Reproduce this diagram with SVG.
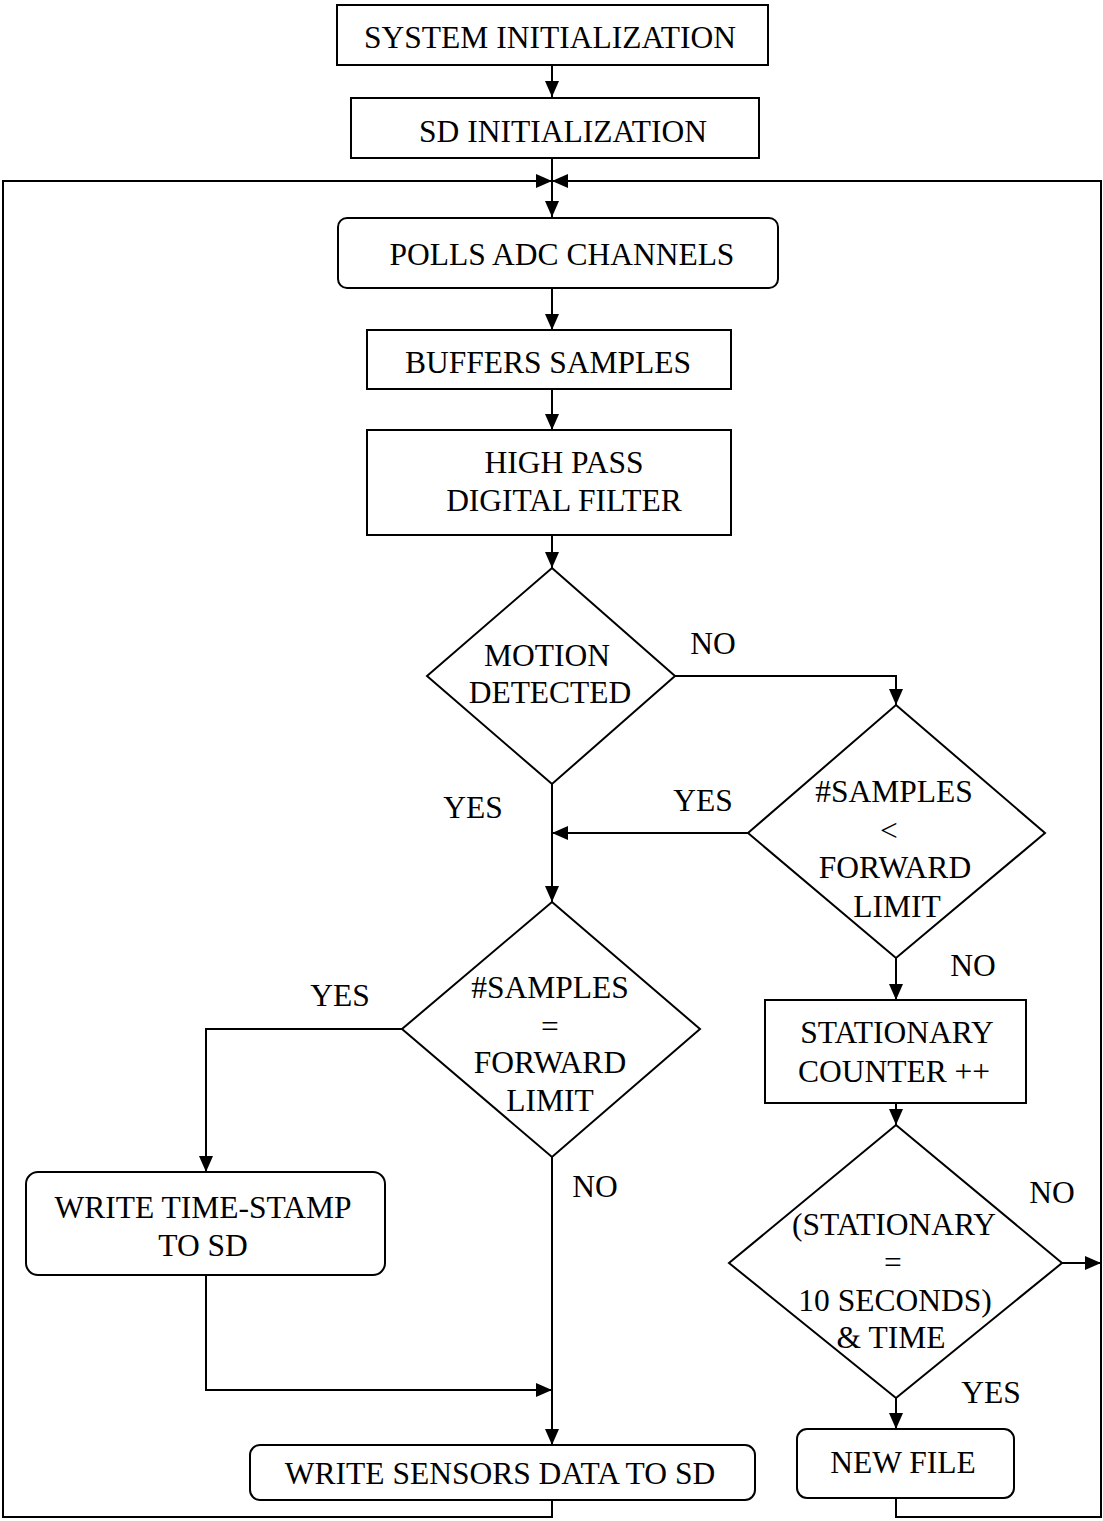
<svg xmlns="http://www.w3.org/2000/svg" width="1103" height="1521" viewBox="0 0 1103 1521">
<style>
.box{fill:#fff;stroke:#000;stroke-width:2}
.ln{fill:none;stroke:#000;stroke-width:2}
.arr{fill:none;stroke:#000;stroke-width:2;marker-end:url(#ah)}
text{font-family:"Liberation Serif","Times New Roman",serif;font-size:31.5px;fill:#000;text-anchor:middle}
</style>
<defs>
<marker id="ah" markerUnits="userSpaceOnUse" markerWidth="16" markerHeight="14" refX="16" refY="7" orient="auto">
<path d="M0,0 L16,7 L0,14 z" fill="#000"/>
</marker>
</defs>
<rect width="1103" height="1521" fill="#fff"/>
<g id="connectors">
<path class="arr" d="M552,65 V97"/>
<path class="arr" d="M552,158 V217"/>
<path class="arr" d="M552,1500 V1517 H3 V181 H552"/>
<path class="arr" d="M896,1498 V1517 H1101 V181 H552"/>
<path class="arr" d="M552,288 V330"/>
<path class="arr" d="M552,389 V430"/>
<path class="arr" d="M552,535 V568"/>
<path class="arr" d="M675,676 H896 V705"/>
<path class="ln" d="M552,784 V833"/>
<path class="arr" d="M748,833 H552"/>
<path class="arr" d="M552,833 V902"/>
<path class="arr" d="M402,1029 H206 V1172"/>
<path class="arr" d="M206,1275 V1390 H552"/>
<path class="arr" d="M552,1157 V1445"/>
<path class="arr" d="M896,958 V1000"/>
<path class="arr" d="M896,1103 V1125"/>
<path class="arr" d="M1062,1263 H1101"/>
<path class="arr" d="M896,1398 V1429"/>
</g>
<g id="n-sysinit">
<rect class="box" x="337" y="5" width="431" height="60"/>
<text x="550" y="48">SYSTEM INITIALIZATION</text>
</g>
<g id="n-sdinit">
<rect class="box" x="351" y="98" width="408" height="60"/>
<text x="563" y="142">SD INITIALIZATION</text>
</g>
<g id="n-polls">
<rect class="box" x="338" y="218" width="440" height="70" rx="9"/>
<text x="562" y="265">POLLS ADC CHANNELS</text>
</g>
<g id="n-buffers">
<rect class="box" x="367" y="330" width="364" height="59"/>
<text x="548" y="373">BUFFERS SAMPLES</text>
</g>
<g id="n-filter">
<rect class="box" x="367" y="430" width="364" height="105"/>
<text x="564" y="473">HIGH PASS</text>
<text x="564" y="511">DIGITAL FILTER</text>
</g>
<g id="n-motion">
<polygon class="box" points="552,568 675,676 552,784 427,676"/>
<text x="547" y="666">MOTION</text>
<text x="550" y="703">DETECTED</text>
</g>
<g id="n-samples-lt">
<polygon class="box" points="896,705 1045,833 896,958 748,833"/>
<text x="894" y="802">#SAMPLES</text>
<text x="889" y="841">&lt;</text>
<text x="895" y="878">FORWARD</text>
<text x="897" y="917">LIMIT</text>
</g>
<g id="n-samples-eq">
<polygon class="box" points="552,902 700,1029 552,1157 402,1029"/>
<text x="550" y="998">#SAMPLES</text>
<text x="550" y="1037">=</text>
<text x="550" y="1073">FORWARD</text>
<text x="550" y="1111">LIMIT</text>
</g>
<g id="n-stationary">
<rect class="box" x="765" y="1000" width="261" height="103"/>
<text x="897" y="1043">STATIONARY</text>
<text x="894" y="1082">COUNTER ++</text>
</g>
<g id="n-stat-check">
<polygon class="box" points="896,1125 1062,1263 896,1398 729,1263"/>
<text x="894" y="1235">(STATIONARY</text>
<text x="893" y="1273">=</text>
<text x="895" y="1311">10 SECONDS)</text>
<text x="891" y="1348">&amp; TIME</text>
</g>
<g id="n-timestamp">
<rect class="box" x="26" y="1172" width="359" height="103" rx="12"/>
<text x="203" y="1218">WRITE TIME-STAMP</text>
<text x="203" y="1256">TO SD</text>
</g>
<g id="n-writesensors">
<rect class="box" x="250" y="1445" width="505" height="55" rx="10"/>
<text x="500" y="1484">WRITE SENSORS DATA TO SD</text>
</g>
<g id="n-newfile">
<rect class="box" x="797" y="1429" width="217" height="69" rx="10"/>
<text x="903" y="1473">NEW FILE</text>
</g>
<g id="labels">
<text x="713" y="654">NO</text>
<text x="473" y="818">YES</text>
<text x="703" y="811">YES</text>
<text x="973" y="976">NO</text>
<text x="340" y="1006">YES</text>
<text x="595" y="1197">NO</text>
<text x="1052" y="1203">NO</text>
<text x="991" y="1403">YES</text>
</g>
</svg>
